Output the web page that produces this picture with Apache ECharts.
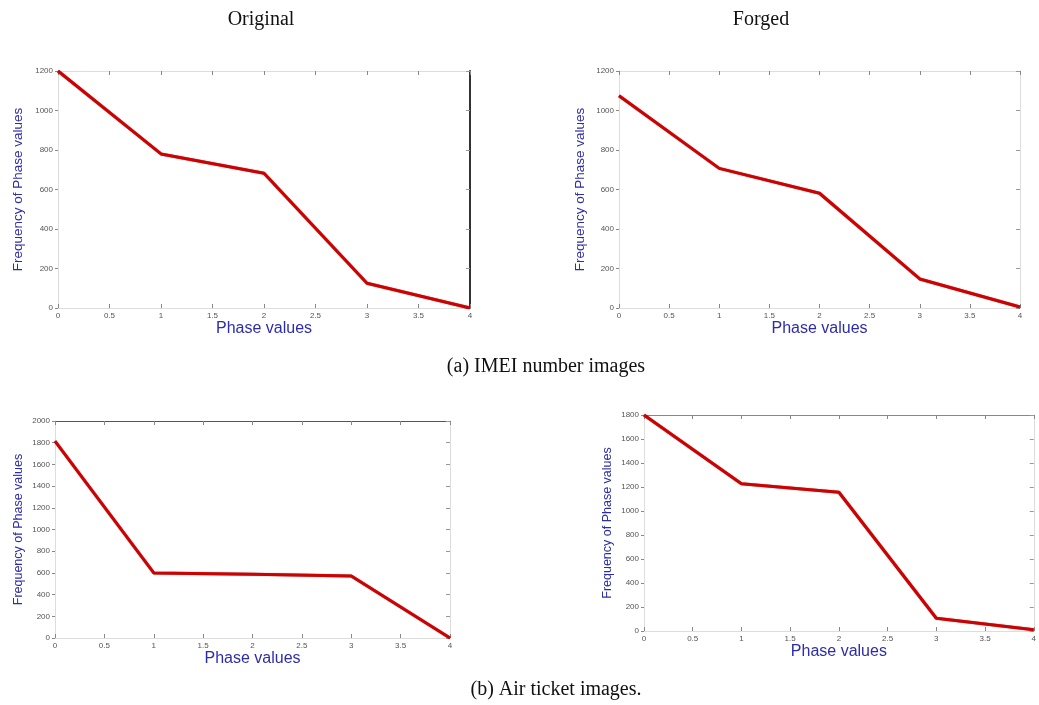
<!DOCTYPE html>
<html>
<head>
<meta charset="utf-8">
<script src="https://cdn.jsdelivr.net/npm/echarts@6/dist/echarts.min.js"></script>
<style>html,body{margin:0;padding:0;background:#fff}#c{width:1039px;height:705px}</style>
</head>
<body>
<div id="c"></div>
<script>
// Phase values (x) shared by all panels
const phaseValues = [0, 1, 2, 3, 4];
// (a) IMEI number images
const imeiOriginal = [1200, 780, 682, 125, 0];
const imeiForged = [1075, 707, 581, 147, 5];
// (b) Air ticket images
const airOriginal = [1815, 600, 588, 572, 0];
const airForged = [1800, 1227, 1156, 106, 10];
// Axis ranges
const yMaxes = [1200, 1200, 2000, 1800];
const columnTitles = ['Original', 'Forged'];
const captions = ['(a) IMEI number images', '(b) Air ticket images.'];
const xName = 'Phase values';
const yName = 'Frequency of Phase values';

const grids = [
  {left: 58, top: 71, width: 412, height: 237},
  {left: 619, top: 71, width: 401, height: 237},
  {left: 55, top: 421, width: 395, height: 217},
  {left: 644, top: 415, width: 394, height: 216}
];
const seriesData = [imeiOriginal, imeiForged, airOriginal, airForged];
const nameGapsY = [33, 32, 30, 30];
const yNameSize = [13.5, 13.5, 12.5, 12.5];
// border colours: [right, top]
const borders = [['#333', '#ddd'], ['#ddd', '#ddd'], ['#ddd', '#555'], ['#ddd', '#888']];

const blue = '#2d2daa';
const lbl = {fontSize: 8, color: '#555', fontFamily: 'Arial'};
const xAxis = [], yAxis = [], series = [];
grids.forEach((g, i) => {
  xAxis.push({
    gridIndex: i, type: 'value', min: 0, max: 4, interval: 0.5, position: 'bottom',
    name: xName, nameLocation: 'middle', nameGap: 13,
    nameTextStyle: {fontSize: 16, color: blue, fontFamily: 'Arial'},
    axisLine: {onZero: false, lineStyle: {color: '#ddd', width: 1}},
    axisTick: {inside: true, length: 4, lineStyle: {color: '#888'}},
    axisLabel: Object.assign({margin: 4, formatter: v => String(v)}, lbl),
    splitLine: {show: false}
  });
  xAxis.push({
    gridIndex: i, type: 'value', min: 0, max: 4, interval: 0.5, position: 'top',
    axisLine: {onZero: false, lineStyle: {color: borders[i][1], width: 1}},
    axisTick: {inside: true, length: 4, lineStyle: {color: '#888'}},
    axisLabel: {show: false}, splitLine: {show: false}
  });
  yAxis.push({
    gridIndex: i, type: 'value', min: 0, max: yMaxes[i], interval: 200, position: 'left',
    name: yName, nameLocation: 'middle', nameGap: nameGapsY[i],
    nameTextStyle: {fontSize: yNameSize[i], color: blue, fontFamily: 'Arial'},
    axisLine: {show: true, onZero: false, lineStyle: {color: '#ddd', width: 1}},
    axisTick: {show: true, inside: false, length: 3, lineStyle: {color: '#888'}},
    axisLabel: Object.assign({margin: 5, formatter: v => String(v)}, lbl),
    splitLine: {show: false}
  });
  yAxis.push({
    gridIndex: i, type: 'value', min: 0, max: yMaxes[i], interval: 200, position: 'right',
    axisLine: {show: true, onZero: false, lineStyle: {color: borders[i][0], width: i === 0 ? 2 : 1}},
    axisTick: {show: true, inside: true, length: 4, lineStyle: {color: '#999'}},
    axisLabel: {show: false}, splitLine: {show: false}
  });
  series.push({
    type: 'line', xAxisIndex: i * 2, yAxisIndex: i * 2,
    data: phaseValues.map((x, k) => [x, seriesData[i][k]]),
    symbol: 'none', lineStyle: {color: '#d00000', width: 3,
      shadowColor: 'rgba(60,0,0,0.6)', shadowBlur: 1},
    z: 5
  });
});

const serif = 'Liberation Serif, Times New Roman, serif';
const txt = (t, x, y) => ({type: 'text', x: x, y: y,
  style: {text: t, font: '20px ' + serif, fill: '#111', textAlign: 'center', textVerticalAlign: 'middle'}});
const option = {
  animation: false,
  backgroundColor: '#fff',
  grid: grids,
  xAxis, yAxis, series,
  graphic: [
    txt(columnTitles[0], 261, 20),
    txt(columnTitles[1], 761, 20),
    txt(captions[0], 546, 367),
    txt(captions[1], 556, 690)
  ]
};
const chart = echarts.init(document.getElementById('c'), null, {renderer: 'canvas'});
chart.setOption(option);
</script>
</body>
</html>
